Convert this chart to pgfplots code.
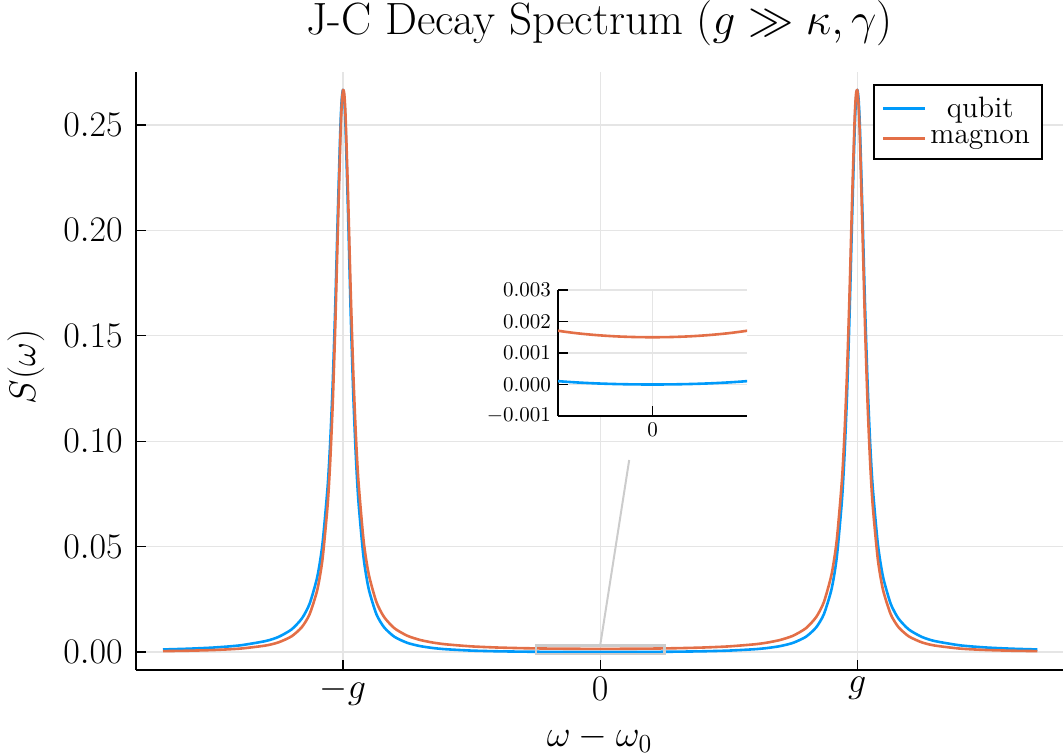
\RequirePackage{fix-cm}
\documentclass[border=0pt]{standalone}
\usepackage{pgfplots}
\pgfplotsset{compat=1.18}
\usepackage{pgfplotstable}
\definecolor{jblue}{RGB}{0,154,250}
\definecolor{jorange}{RGB}{227,111,71}

\pgfplotstableread{
w q m
-1.7 0.001208 0.000418
-1.6 0.001569 0.000613
-1.5 0.002143 0.000952
-1.4 0.003152 0.001608
-1.3 0.005220 0.003089
-1.25 0.007207 0.004613
-1.2 0.010709 0.007437
-1.16 0.015892 0.011810
-1.13 0.022841 0.017888
-1.1 0.035654 0.029466
-1.08 0.051083 0.043796
-1.06 0.078039 0.069454
-1.05 0.098979 0.089777
-1.04 0.127317 0.117712
-1.03 0.164447 0.155007
-1.02 0.208524 0.200427
-1.01 0.249129 0.244220
-1.005 0.262049 0.259448
-1.0 0.266667 0.266667
-0.995 0.261981 0.264621
-0.99 0.248798 0.253850
-0.98 0.206686 0.215208
-0.97 0.160636 0.170726
-0.96 0.122001 0.132380
-0.95 0.092831 0.102860
-0.94 0.071570 0.080998
-0.92 0.044777 0.052903
-0.9 0.029885 0.036895
-0.87 0.017920 0.023676
-0.84 0.011677 0.016549
-0.8 0.007207 0.011261
-0.75 0.004336 0.007709
-0.7 0.002796 0.005707
-0.65 0.001887 0.004466
-0.6 0.001312 0.003644
-0.5 0.000665 0.002660
-0.4 0.000340 0.002123
-0.3 0.000163 0.001810
-0.2 0.0000651 0.001627
-0.1 0.0000153 0.001530
0 0 0.0015
0.1 0.0000153 0.001530
0.2 0.0000651 0.001627
0.3 0.000163 0.001810
0.4 0.000340 0.002123
0.5 0.000665 0.002660
0.6 0.001312 0.003644
0.65 0.001887 0.004466
0.7 0.002796 0.005707
0.75 0.004336 0.007709
0.8 0.007207 0.011261
0.84 0.011677 0.016549
0.87 0.017920 0.023676
0.9 0.029885 0.036895
0.92 0.044777 0.052903
0.94 0.071570 0.080998
0.95 0.092831 0.102860
0.96 0.122001 0.132380
0.97 0.160636 0.170726
0.98 0.206686 0.215208
0.99 0.248798 0.253850
0.995 0.261981 0.264621
1.0 0.266667 0.266667
1.005 0.262049 0.259448
1.01 0.249129 0.244220
1.02 0.208524 0.200427
1.03 0.164447 0.155007
1.04 0.127317 0.117712
1.05 0.098979 0.089777
1.06 0.078039 0.069454
1.08 0.051083 0.043796
1.1 0.035654 0.029466
1.13 0.022841 0.017888
1.16 0.015892 0.011810
1.2 0.010709 0.007437
1.25 0.007207 0.004613
1.3 0.005220 0.003089
1.4 0.003152 0.001608
1.5 0.002143 0.000952
1.6 0.001569 0.000613
1.7 0.001208 0.000418
}\maindata

\pgfplotstableread{
w q m
-0.3 0.000163 0.001810
-0.25 0.0001066 0.001706
-0.2 0.0000651 0.001627
-0.15 0.0000353 0.0015696
-0.1 0.0000153 0.001530
-0.05 0.00000377 0.0015075
0 0 0.0015
0.05 0.00000377 0.0015075
0.1 0.0000153 0.001530
0.15 0.0000353 0.0015696
0.2 0.0000651 0.001627
0.25 0.0001066 0.001706
0.3 0.000163 0.001810
}\insetdata

\begin{document}
\begin{tikzpicture}
\path[use as bounding box] (0,0) rectangle (531.5pt,377.5pt);
\begin{axis}[
  at={(68pt,42.5pt)}, anchor=south west,
  scale only axis, width=463.5pt, height=299pt,
  xmin=-1.805, xmax=1.80, ymin=-0.00854, ymax=0.27514,
  axis x line=bottom, axis y line=left,
  axis line style={-, line width=1.2pt, black},
  xtick={-1,0,1}, xticklabels={$-g$,$0$,$g$},
  ytick={0,0.05,0.10,0.15,0.20,0.25},
  scaled y ticks=false,
  tick style={black, line width=0.6pt},
  major tick length=5pt, tick align=inside,
  grid=major, major grid style={black!10, line width=0.6pt},
  xticklabel style={font=\fontsize{18}{21}\selectfont},
  yticklabel style={font=\fontsize{18}{21}\selectfont, inner xsep=6.5pt,
    /pgf/number format/fixed, /pgf/number format/fixed zerofill,
    /pgf/number format/precision=2},
  legend style={at={(0.9784,0.9799)}, anchor=north east, draw=black, line width=1pt,
    font=\fontsize{14.75}{16}\selectfont, inner xsep=4pt, inner ysep=4pt, row sep=1pt},
  legend cell align=center,
  legend image code/.code={\draw[#1, line width=1.3pt] (0pt,0pt) -- (21pt,0pt);},
]
\addplot[jblue, line width=1.3pt, line join=round, smooth, tension=0.4] table[x=w,y=q]{\maindata};
\addlegendentry{qubit}
\addplot[jorange, line width=1.3pt, line join=round, smooth, tension=0.4] table[x=w,y=m]{\maindata};
\addlegendentry{magnon}
\draw[black!20, line width=1.3pt] (axis cs:-0.25,-0.001) rectangle (axis cs:0.25,0.003);
\draw[black!20, line width=1pt] (axis cs:0,0.003) -- (axis cs:0.113,0.0911);
\end{axis}

\begin{axis}[
  at={(279pt,169.5pt)}, anchor=south west,
  scale only axis, width=94.5pt, height=63pt,
  xmin=-0.25, xmax=0.25, ymin=-0.001, ymax=0.003,
  axis x line=bottom, axis y line=left,
  axis line style={-, line width=1.2pt, black},
  axis background/.style={fill=white},
  xtick={0}, ytick={-0.001,0,0.001,0.002,0.003},
  scaled y ticks=false,
  tick style={black, line width=0.6pt},
  major tick length=5pt, tick align=inside,
  grid=major, major grid style={black!10, line width=0.6pt},
  xticklabel style={font=\fontsize{10.5}{12}\selectfont},
  yticklabel style={font=\fontsize{10.5}{12}\selectfont,
    /pgf/number format/fixed, /pgf/number format/fixed zerofill,
    /pgf/number format/precision=3},
]
\addplot[jblue, line width=1.3pt, smooth] table[x=w,y=q]{\insetdata};
\addplot[jorange, line width=1.3pt, smooth] table[x=w,y=m]{\insetdata};
\end{axis}

\node[font=\fontsize{22.6}{27}\selectfont, anchor=base] at (299.75pt,360pt) {J-C Decay Spectrum ($g \gg \kappa, \gamma$)};
\node[font=\fontsize{18.5}{22}\selectfont, anchor=base] at (299.75pt,4.2pt) {$\omega - \omega_0$};
\node[font=\fontsize{18.5}{22}\selectfont, anchor=base, rotate=90] at (17.5pt,194pt) {$S(\omega)$};
\end{tikzpicture}
\end{document}
